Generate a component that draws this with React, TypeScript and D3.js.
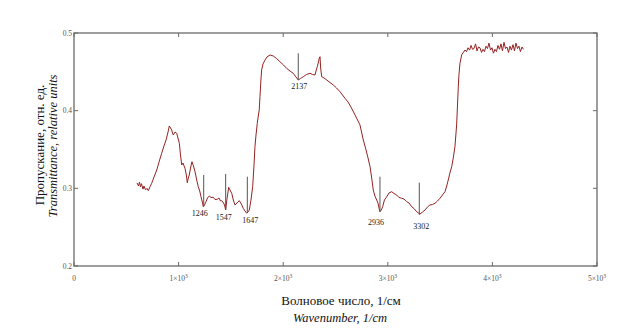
import { useMemo } from "react";
import * as d3 from "d3";

const W = 623;
const H = 335;
const M = { left: 74, right: 26, top: 33, bottom: 69 };

// spectrum
const wavenumber = [
  602, 617, 626, 636, 645, 660, 669, 684, 698, 710, 727, 743, 765, 791, 813, 838, 860, 880, 899, 911,
  923, 934, 942, 949, 966, 982, 994, 1007, 1018, 1030, 1042, 1061, 1074, 1083, 1093, 1102, 1116, 1128, 1142, 1157,
  1173, 1188, 1202, 1214, 1227, 1236, 1248, 1262, 1276, 1293, 1310, 1332, 1348, 1370, 1386, 1401, 1412, 1424, 1439, 1450,
  1461, 1479, 1491, 1508, 1523, 1539, 1558, 1580, 1600, 1618, 1635, 1651, 1663, 1676, 1692, 1708, 1721, 1730, 1740, 1752,
  1762, 1771, 1778, 1787, 1794, 1807, 1826, 1845, 1874, 1905, 1936, 1969, 2003, 2033, 2065, 2096, 2122, 2144, 2165, 2192,
  2223, 2256, 2280, 2304, 2316, 2326, 2337, 2345, 2352, 2358, 2368, 2390, 2416, 2447, 2479, 2510, 2543, 2567, 2591, 2620,
  2648, 2677, 2706, 2734, 2766, 2792, 2811, 2830, 2846, 2861, 2877, 2894, 2906, 2916, 2925, 2938, 2951, 2968, 2990, 3011,
  3037, 3059, 3085, 3107, 3133, 3155, 3181, 3203, 3228, 3250, 3276, 3293, 3308, 3332, 3356, 3380, 3403, 3427, 3451, 3475,
  3499, 3523, 3547, 3563, 3578, 3594, 3611, 3626, 3642, 3658, 3674, 3680, 3690, 3706, 3719, 3738, 3753, 3767, 3782, 3796,
  3810, 3824, 3839, 3853, 3867, 3881, 3896, 3910, 3924, 3939, 3953, 3967, 3982, 3996, 4010, 4025, 4039, 4053, 4068, 4082,
  4096, 4111, 4125, 4139, 4154, 4168, 4182, 4197, 4211, 4225, 4240, 4254, 4268, 4283, 4297,
];
const transmittance = [
  0.307, 0.303, 0.308, 0.302, 0.306, 0.299, 0.303, 0.298, 0.300, 0.297, 0.302, 0.3065, 0.3146, 0.3236, 0.334, 0.3451, 0.3545, 0.3622, 0.3725, 0.3803,
  0.3777, 0.3751, 0.3713, 0.3687, 0.3725, 0.3709, 0.3648, 0.358, 0.3429, 0.3301, 0.3326, 0.3258, 0.3172, 0.3073, 0.3133, 0.3172, 0.3275, 0.3343, 0.3288, 0.3214,
  0.3107, 0.3021, 0.2966, 0.2892, 0.2824, 0.2764, 0.2786, 0.2828, 0.2876, 0.2901, 0.2882, 0.2885, 0.2856, 0.2859, 0.2876, 0.2837, 0.2841, 0.2824, 0.2786, 0.2721,
  0.285, 0.3013, 0.2979, 0.2936, 0.285, 0.2786, 0.2811, 0.2841, 0.2798, 0.2743, 0.2708, 0.2679, 0.2695, 0.2721, 0.285, 0.3021, 0.3301, 0.3536, 0.3687, 0.3837,
  0.3931, 0.4009, 0.418, 0.4395, 0.4524, 0.4601, 0.4652, 0.4691, 0.4717, 0.4704, 0.4672, 0.463, 0.4588, 0.4545, 0.4511, 0.4481, 0.4434, 0.4395, 0.4414, 0.4437,
  0.4466, 0.4481, 0.4466, 0.4459, 0.4524, 0.4566, 0.4627, 0.4678, 0.4695, 0.4549, 0.4437, 0.4421, 0.4395, 0.4363, 0.433, 0.4292, 0.4244, 0.4202, 0.4159, 0.4111,
  0.4047, 0.397, 0.3893, 0.3816, 0.3622, 0.3494, 0.3391, 0.3279, 0.3133, 0.2979, 0.2901, 0.285, 0.2811, 0.2747, 0.2699, 0.2721, 0.2764, 0.285, 0.2892, 0.294,
  0.2957, 0.2934, 0.2914, 0.2882, 0.2872, 0.2863, 0.2828, 0.2811, 0.2764, 0.2741, 0.2699, 0.2682, 0.267, 0.2695, 0.2721, 0.276, 0.2786, 0.2792, 0.2807, 0.2837,
  0.2872, 0.2914, 0.2957, 0.303, 0.3107, 0.3198, 0.3279, 0.3391, 0.3536, 0.3816, 0.4309, 0.4459, 0.461, 0.4717, 0.4743, 0.4781, 0.476, 0.481, 0.478, 0.484,
  0.479, 0.480, 0.486, 0.477, 0.482, 0.481, 0.475, 0.479, 0.476, 0.483, 0.480, 0.487, 0.478, 0.481, 0.474, 0.479, 0.476, 0.484, 0.479, 0.486,
  0.477, 0.488, 0.480, 0.482, 0.475, 0.483, 0.478, 0.485, 0.477, 0.487, 0.480, 0.483, 0.476, 0.482, 0.479,
];

// band markers (line position, label, top and bottom of the line)
const peakPos = [1240, 1450, 1657, 2144, 2925, 3301];
const peakLabel = ["1246", "1547", "1647", "2137", "2936", "3302"];
const peakTop = [0.3172, 0.3185, 0.315, 0.4739, 0.315, 0.3073];
const peakBottom = [0.2764, 0.2721, 0.2683, 0.4395, 0.2699, 0.2657];
const peakDx = [-4, -2, 3, 1, -4, 2];
const peakDy = [9, 10, 10, 9, 13, 14];

const xTicks = [0, 1000, 2000, 3000, 4000, 5000];
const xTickMant = ["0", "1", "2", "3", "4", "5"];
const yTicks = [0.2, 0.3, 0.4, 0.5];
const yTickLabels = ["0.2", "0.3", "0.4", "0.5"];

const SERIF = "'Liberation Serif', 'Times New Roman', serif";
const FRAME = "#6a6a6a";

export default function App() {
  const x = d3.scaleLinear().domain([0, 5000]).range([M.left, W - M.right]);
  const y = d3.scaleLinear().domain([0.2, 0.5]).range([H - M.bottom, M.top]);

  const path = useMemo(() => {
    const line = d3
      .line<number>()
      .x((d, i) => x(wavenumber[i]))
      .y((d) => y(d));
    return line(transmittance);
  }, []);

  const x0 = x(0), x1 = x(5000), y0 = y(0.2), y1 = y(0.5);

  return (
    <svg width={W} height={H} style={{ position: "absolute", left: 0, top: 0, background: "#fff" }}>
      {/* frame */}
      <rect x={x0} y={y1} width={x1 - x0} height={y0 - y1} fill="none" stroke={FRAME} strokeWidth={1.3} />
      {xTicks.map((t, i) => (
        <g key={"xt" + i}>
          <line x1={x(t)} x2={x(t)} y1={y0} y2={y0 - 4} stroke={FRAME} />
          <line x1={x(t)} x2={x(t)} y1={y1} y2={y1 + 4} stroke={FRAME} />
          <text x={x(t)} y={y0 + 15} fontSize={7.5} fontFamily={SERIF} fill="#555" textAnchor="middle">
            {t === 0 ? (
              "0"
            ) : (
              <>
                {xTickMant[i]}×10
                <tspan fontSize={5.5} dy={-3}>3</tspan>
              </>
            )}
          </text>
        </g>
      ))}
      {yTicks.map((t, i) => (
        <g key={"yt" + i}>
          <line x1={x0} x2={x0 + 4} y1={y(t)} y2={y(t)} stroke={FRAME} />
          <line x1={x1} x2={x1 - 4} y1={y(t)} y2={y(t)} stroke={FRAME} />
          <text x={x0 - 2} y={y(t) + 2.5} fontSize={7.5} fontFamily={SERIF} fill="#555" textAnchor="end">
            {yTickLabels[i]}
          </text>
        </g>
      ))}

      {/* spectrum */}
      <path d={path ?? ""} fill="none" stroke="#962222" strokeWidth={1} strokeLinejoin="round" />

      {/* band markers */}
      {peakPos.map((p, i) => (
        <g key={"pk" + i}>
          <line x1={x(p)} x2={x(p)} y1={y(peakTop[i])} y2={y(peakBottom[i])} stroke="#555" strokeWidth={1} />
          <text
            x={x(p) + peakDx[i]}
            y={y(peakBottom[i]) + peakDy[i]}
            fontSize={8}
            fontFamily={SERIF}
            fill="#222"
            textAnchor="middle"
          >
            {peakLabel[i]}
          </text>
        </g>
      ))}

      {/* axis titles */}
      <text x={341} y={305} fontSize={13} fontFamily={SERIF} fill="#111" textAnchor="middle">
        Волновое число, 1/см
      </text>
      <text x={340} y={322} fontSize={12.5} fontFamily={SERIF} fontStyle="italic" fill="#111" textAnchor="middle">
        Wavenumber, 1/cm
      </text>
      <text
        transform="translate(44,145) rotate(-90)"
        fontSize={13}
        fontFamily={SERIF}
        fill="#111"
        textAnchor="middle"
      >
        Пропускание, отн. ед.
      </text>
      <text
        transform="translate(57,146) rotate(-90)"
        fontSize={12.5}
        fontFamily={SERIF}
        fontStyle="italic"
        fill="#111"
        textAnchor="middle"
      >
        Transmittance, relative units
      </text>
    </svg>
  );
}
